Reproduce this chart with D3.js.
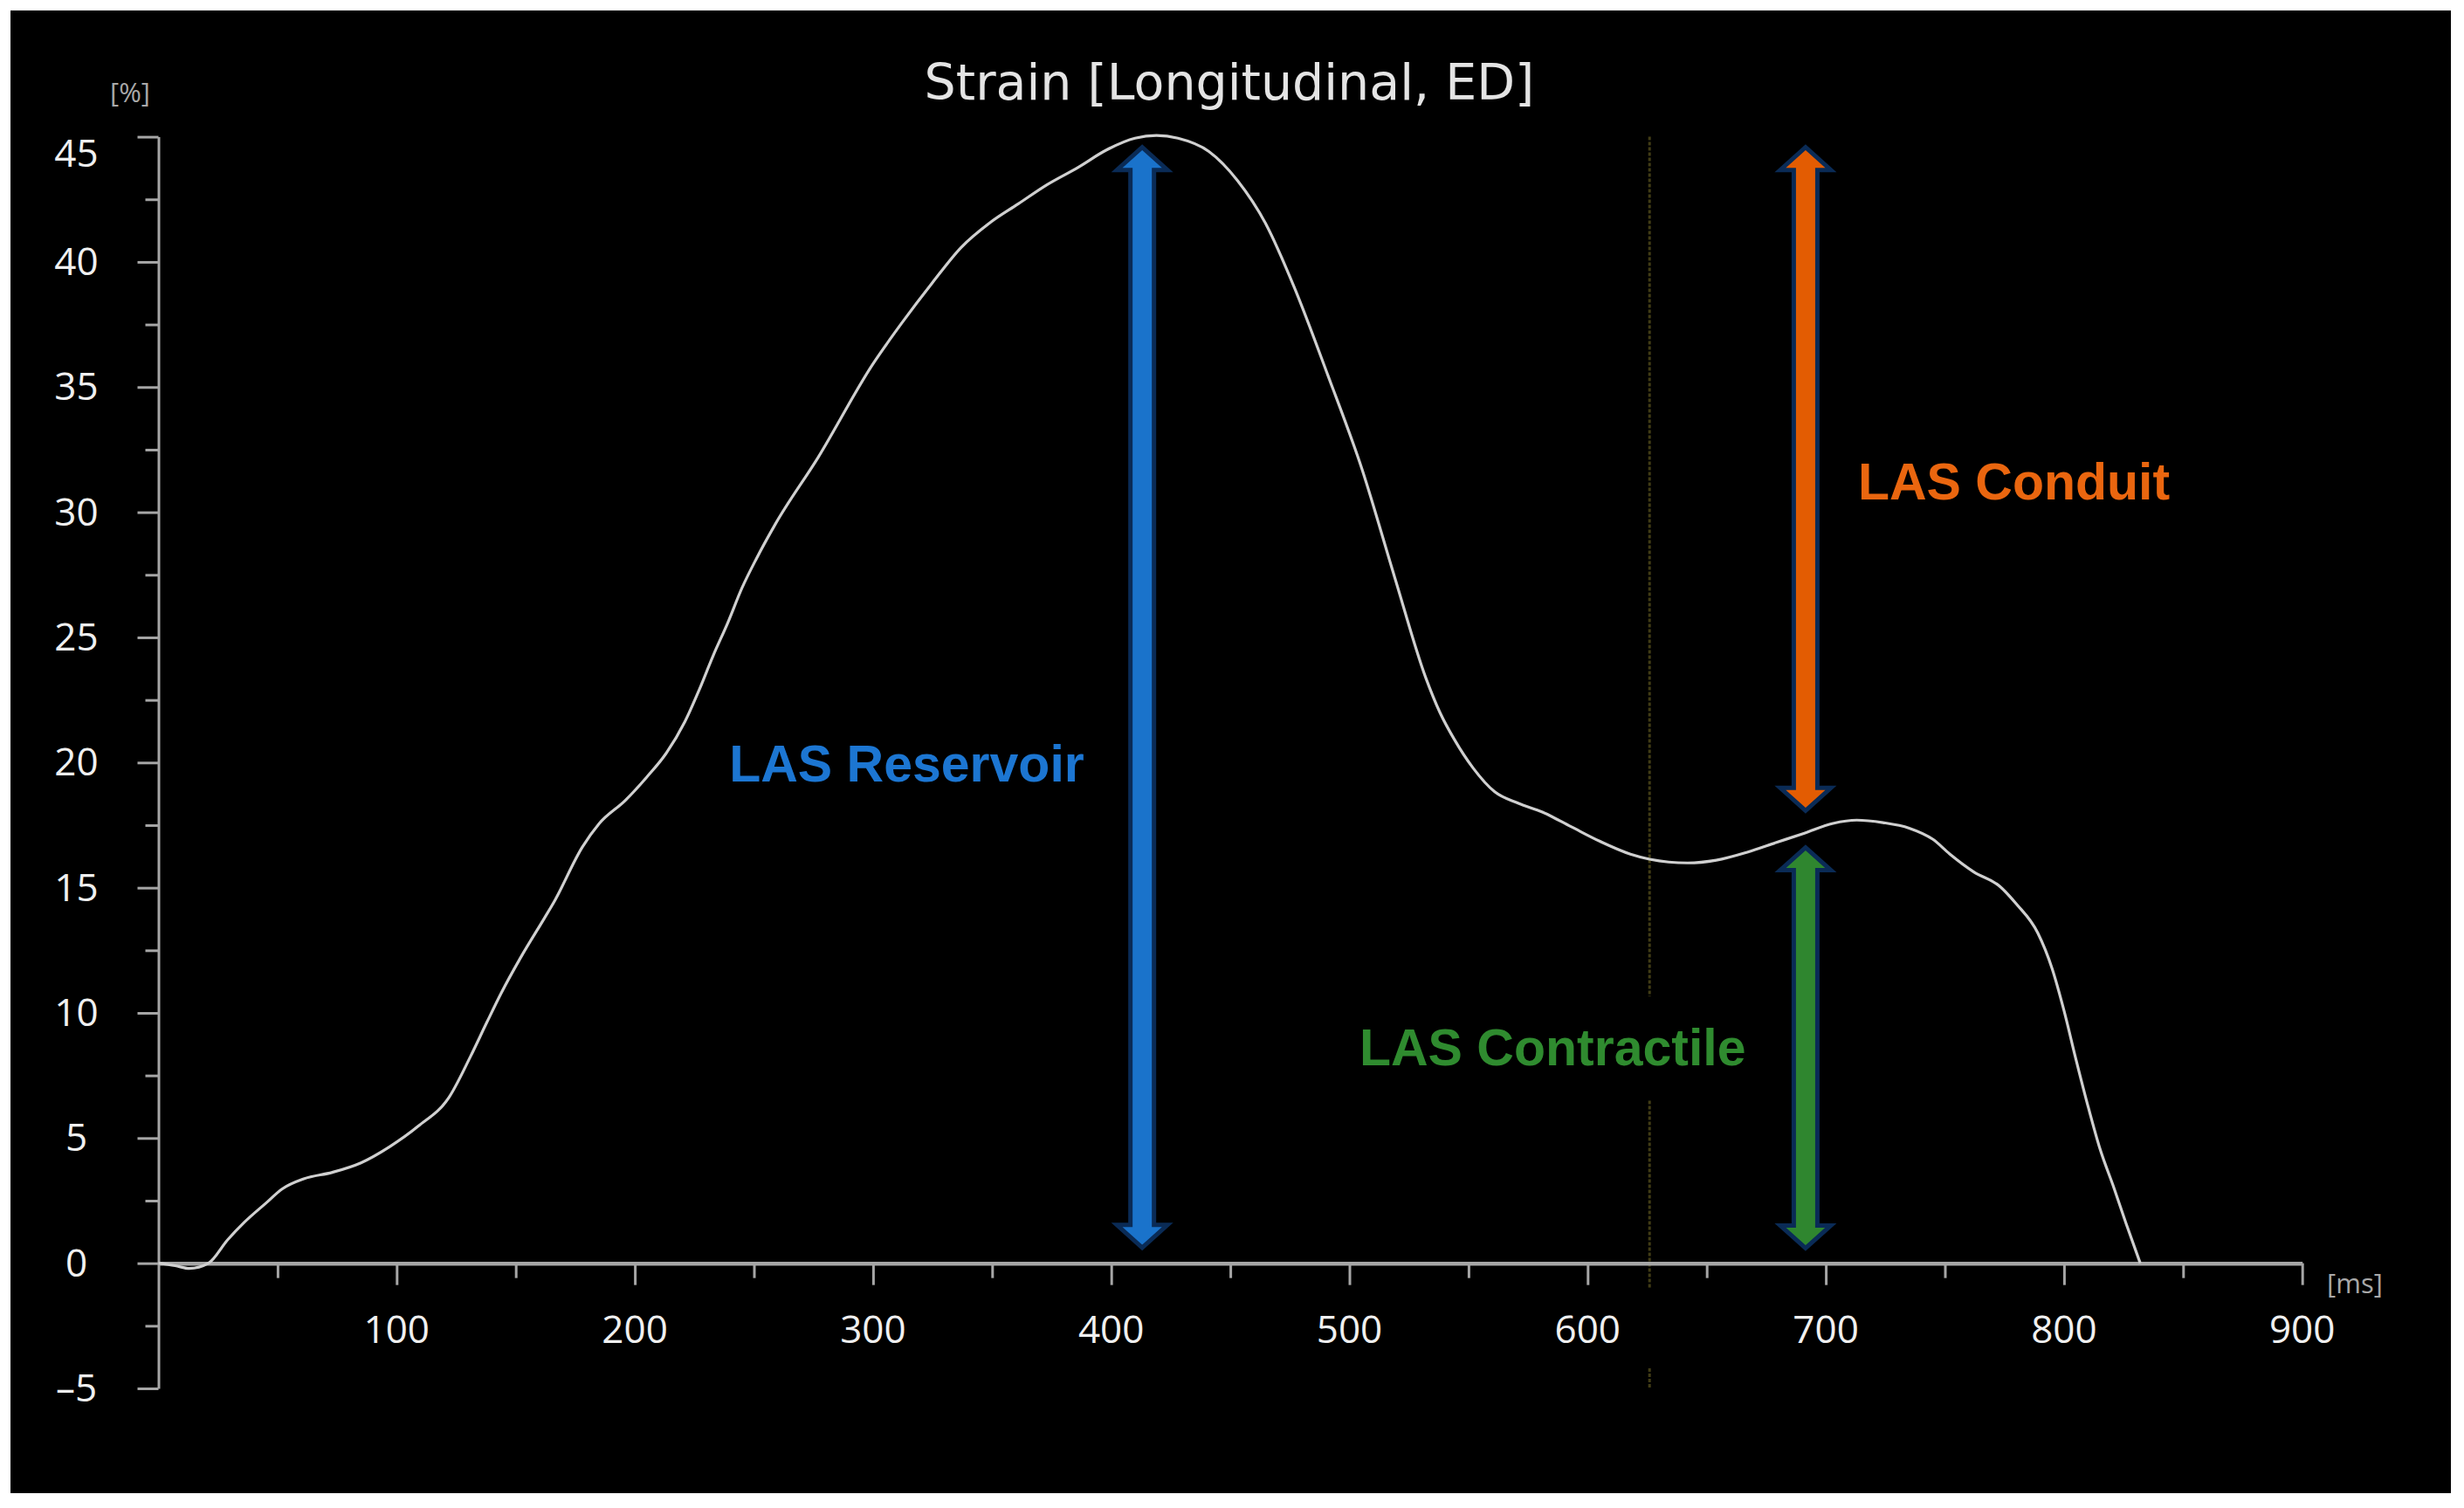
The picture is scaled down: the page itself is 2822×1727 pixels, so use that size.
<!DOCTYPE html>
<html><head><meta charset="utf-8">
<script src="https://cdn.jsdelivr.net/npm/d3@7"></script>
<style>html,body{margin:0;padding:0;background:#fff;} svg{display:block;}</style>
</head><body>
<svg id="chart" width="2822" height="1727"></svg>
<script>
// ---- data ----
const timeMs = [0,7,13,21,29,36,45,52,61,73,85,97,109,122,131,138,144,152,162,166,178,185,196,205,213,221,227,233,239,245,251,259,277,300,312,325,337,349,361,373,386,398,410,419,428,441,453,465,477,491,505,519,532,538,544,552,561,571,581,593,605,618,626,642,654,667,679,691,703,713,724,735,745,752,762,773,780,789,795,800,805,810,815,821,826,832];
const strainPct = [0,-0.1,-0.21,0,0.93,1.63,2.39,2.97,3.37,3.63,4.01,4.65,5.47,6.63,8.26,9.65,10.81,12.2,13.78,14.42,16.63,17.56,18.49,19.42,20.35,21.63,22.9,24.3,25.58,26.98,28.14,29.53,32.2,35.93,37.55,39.18,40.58,41.56,42.32,43.08,43.77,44.47,44.94,45.05,44.94,44.41,43.25,41.5,38.95,35.46,31.8,27.4,23.4,22.0,20.93,19.77,18.83,18.37,18.02,17.44,16.86,16.34,16.14,15.99,16.1,16.42,16.8,17.18,17.57,17.7,17.6,17.38,16.93,16.35,15.64,15.06,14.35,13.19,11.77,10.09,8.15,6.3,4.6,3.0,1.6,0];

const xTickValues = [100,200,300,400,500,600,700,800,900];
const xMinorTicks = [50,150,250,350,450,550,650,750,850];
const yTickValues = [-5,0,5,10,15,20,25,30,35,40,45];
const yMinorTicks = [-2.5,2.5,7.5,12.5,17.5,22.5,27.5,32.5,37.5,42.5];
const yTickLabels = ["\u20135","0","5","10","15","20","25","30","35","40","45"];

const arrowLabels = ["LAS Reservoir","LAS Conduit","LAS Contractile"];
const arrowTimes  = [413, 691.5, 691.5];
const arrowFrom   = [0.5, 17.96, 0.48];
const arrowTo     = [44.7, 44.7, 16.73];

const markerTime = 626;
const markerFrom = [45, -4.2];
const markerTo   = [-1, -5];

const titleText = "Strain [Longitudinal, ED]";
const yUnit = "[%]";
const xUnit = "[ms]";

// ---- styles ----
const arrowFill = ["#1a73cb","#e35c02","#2f862f"];
const textFill  = ["#1c76d2","#ea660f","#2f8b2f"];
const outline = "#0a2b56";
const axisColor = "#a6a6a6";

// ---- drawing ----
const svg = d3.select("#chart");
svg.append("rect").attr("x",12).attr("y",12).attr("width",2795).attr("height",1698).attr("fill","#000");

const x = d3.scaleLinear().domain([0,900]).range([181.5,2636.7]);
const y = d3.scaleLinear().domain([-5,45]).range([1590,156.6]);

// marker line
svg.append("g").selectAll("line").data(markerFrom).join("line")
  .attr("x1",x(markerTime)).attr("x2",x(markerTime))
  .attr("y1",d=>y(d)).attr("y2",(d,i)=>y(markerTo[i]))
  .attr("stroke","#413c15").attr("stroke-width",3).attr("stroke-dasharray","4,2");

// x axis
const gxMinor = svg.append("g").attr("transform",`translate(0,${y(0)})`)
  .call(d3.axisBottom(x).tickValues(xMinorTicks).tickSize(17).tickSizeOuter(0).tickFormat(""));
gxMinor.select(".domain").remove();
const gx = svg.append("g").attr("transform",`translate(0,${y(0)})`)
  .call(d3.axisBottom(x).tickValues(xTickValues).tickSize(25).tickSizeOuter(0).tickFormat(""));
gx.select(".domain").attr("stroke",axisColor).attr("stroke-width",4.5);
// y axis
const gyMinor = svg.append("g").attr("transform",`translate(${x(0)},0)`)
  .call(d3.axisLeft(y).tickValues(yMinorTicks).tickSize(15).tickSizeOuter(0).tickFormat(""));
gyMinor.select(".domain").remove();
const gy = svg.append("g").attr("transform",`translate(${x(0)},0)`)
  .call(d3.axisLeft(y).tickValues(yTickValues).tickSize(24).tickSizeOuter(0).tickFormat(""));
gy.select(".domain").attr("stroke",axisColor).attr("stroke-width",3);
svg.selectAll(".tick line").attr("stroke",axisColor).attr("stroke-width",3);

// tick labels
svg.append("g").selectAll("text").data(xTickValues).join("text")
  .attr("x",d=>x(d)).attr("y",y(0)+91)
  .attr("text-anchor","middle").attr("font-family","'Open Sans'").attr("font-size",44)
  .attr("fill","#f0f0f0").text(d=>d);
svg.append("g").selectAll("text").data(yTickValues).join("text")
  .attr("x",x(0)-94)
  .attr("y",d=>Math.max(y(d), y(45)+19)+15)
  .attr("text-anchor","middle").attr("font-family","'Open Sans'").attr("font-size",44)
  .attr("fill","#f0f0f0").text((d,i)=>yTickLabels[i]);

// units & title
svg.append("text").attr("x",149).attr("y",117).attr("text-anchor","middle")
  .attr("font-family","'Open Sans'").attr("font-size",31).attr("fill","#a8a8a8").text(yUnit);
svg.append("text").attr("x",2697).attr("y",1481).attr("text-anchor","middle")
  .attr("font-family","'Open Sans'").attr("font-size",31).attr("fill","#a8a8a8").text(xUnit);
svg.append("text").attr("x",1408).attr("y",114).attr("text-anchor","middle")
  .attr("font-family","'DejaVu Sans'").attr("font-size",57).attr("fill","#e4e4e4").text(titleText);

// curve
const line = d3.line().x(i=>x(timeMs[i])).y(i=>y(strainPct[i])).curve(d3.curveMonotoneX);
svg.append("path").attr("d",line(d3.range(timeMs.length)))
  .attr("fill","none").attr("stroke","#d0d0d0").attr("stroke-width",3.2);

// annotation labels
const labelPos = [[239.6,19.24],[713.5,30.5],[504.2,7.9]];
const labelG = svg.append("g");
arrowLabels.forEach((t,i)=>{
  const g = labelG.append("g");
  const txt = g.append("text").attr("x",x(labelPos[i][0])).attr("y",y(labelPos[i][1]))
    .attr("font-family","'Liberation Sans', Arial, sans-serif").attr("font-weight","bold")
    .attr("font-size",59).attr("fill",textFill[i]).text(t);
  if(i===2){
    const b = txt.node().getBBox();
    g.insert("rect","text").attr("x",b.x-10).attr("y",b.y-26).attr("width",b.width+20).attr("height",b.height+52).attr("fill","#000");
  }
});

// arrows
function arrowPath(cx, yTop, yBot){
  const hw=13.5, hh=29, hl=26;
  return `M${cx},${yTop}L${cx+hh},${yTop+hl}L${cx+hw},${yTop+hl}L${cx+hw},${yBot-hl}L${cx+hh},${yBot-hl}L${cx},${yBot}L${cx-hh},${yBot-hl}L${cx-hw},${yBot-hl}L${cx-hw},${yTop+hl}L${cx-hh},${yTop+hl}Z`;
}
svg.append("g").selectAll("path").data(arrowTimes).join("path")
  .attr("d",(d,i)=>arrowPath(x(d), y(arrowTo[i])+3.5, y(arrowFrom[i])-3.5))
  .attr("fill",(d,i)=>arrowFill[i]).attr("stroke",outline).attr("stroke-width",5)
  .attr("stroke-linejoin","miter").attr("stroke-miterlimit",3);
</script>
</body></html>
